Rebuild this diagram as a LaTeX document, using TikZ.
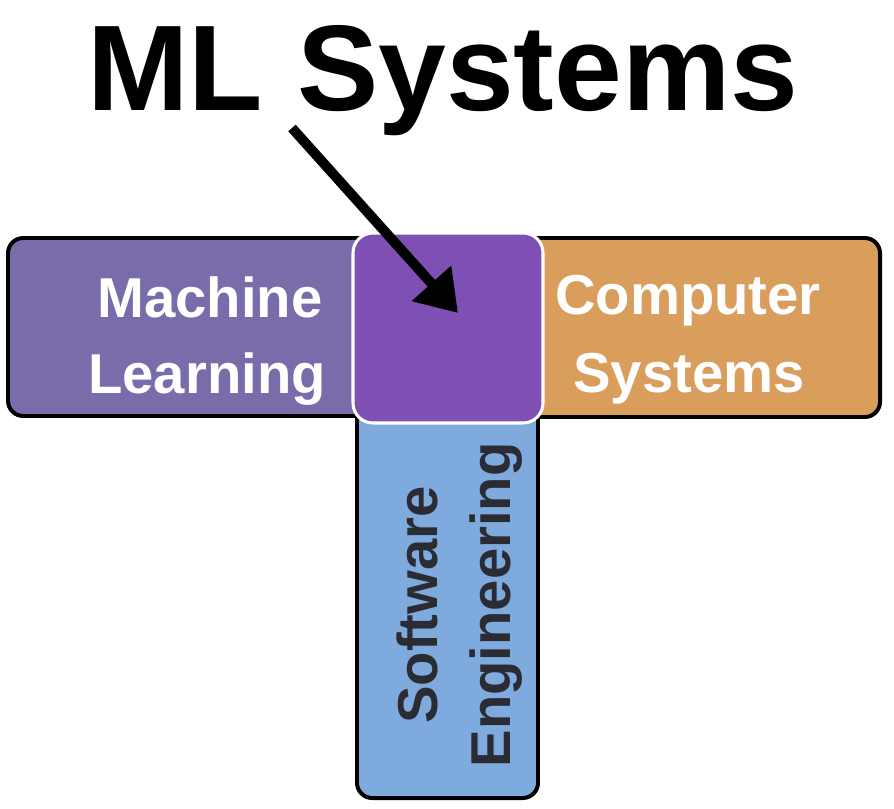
\documentclass[tikz,border=0pt]{standalone}
\usepackage{fontspec}
\setmainfont{Liberation Sans}
\usetikzlibrary{arrows.meta}
\definecolor{mlcol}{RGB}{122,108,170}
\definecolor{centercol}{RGB}{127,80,180}
\definecolor{cscol}{RGB}{217,158,92}
\definecolor{secol}{RGB}{127,170,221}
\definecolor{setext}{RGB}{43,43,51}
\tikzset{
  areabox/.style={draw=black, line width=3.4pt, rounded corners=13pt},
  centerbox/.style={draw=white, line width=2.6pt, fill=centercol, rounded corners=17pt},
  lbl/.style={text=white, font=\bfseries\fontsize{48}{58}\selectfont, anchor=base, inner sep=0pt},
  selbl/.style={text=setext, font=\bfseries\fontsize{48}{58}\selectfont, anchor=base, inner sep=0pt, rotate=90},
  titlelbl/.style={text=black, font=\bfseries\fontsize{104}{120}\selectfont, anchor=base, inner sep=0pt},
  bigarrow/.style={line width=8.5pt, -{Triangle[length=34pt,width=43pt]}}
}
\begin{document}
\begin{tikzpicture}[x=0.03cm,y=-0.03cm]
\useasboundingbox (0,0) rectangle (894,808);
% boxes
\draw[areabox, fill=secol] (357,380) rectangle (538,798);
\draw[areabox, fill=mlcol] (8,238) rectangle (400,416);
\draw[areabox, fill=cscol] (500,238) rectangle (880,417);
\node[centerbox, minimum width=190*0.03cm, minimum height=190*0.03cm, inner sep=0pt] (center) at (448,328) {};
% labels
\node[lbl] (machine) at (210,317) {Machine};
\node[lbl] (learning) at (207,393) {Learning};
\node[lbl] (computer) at (688,314) {Computer};
\node[lbl] (systems) at (689,392) {Systems};
\node[selbl] (software) at (437,605) {Software};
\node[selbl] (engineering) at (510,605) {Engineering};
% title
\node[titlelbl] (title) at (443,110) {ML Systems};
% arrow
\coordinate (arrowtail) at (292,128);
\coordinate (arrowtip) at (458,313);
\draw[bigarrow] (arrowtail) -- (arrowtip);
\end{tikzpicture}
\end{document}
